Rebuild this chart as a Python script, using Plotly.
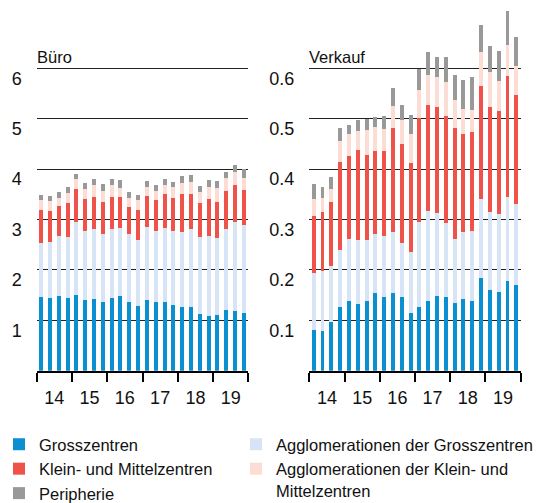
import plotly.graph_objects as go

# ---------------- data ----------------
quarters = ["2014 Q1", "2014 Q2", "2014 Q3", "2014 Q4",
            "2015 Q1", "2015 Q2", "2015 Q3", "2015 Q4",
            "2016 Q1", "2016 Q2", "2016 Q3", "2016 Q4",
            "2017 Q1", "2017 Q2", "2017 Q3", "2017 Q4",
            "2018 Q1", "2018 Q2", "2018 Q3", "2018 Q4",
            "2019 Q1", "2019 Q2", "2019 Q3", "2019 Q4"]
year_labels = ["14", "15", "16", "17", "18", "19"]

series_names = ["Grosszentren",
                "Agglomerationen der Grosszentren",
                "Klein- und Mittelzentren",
                "Agglomerationen der Klein- und<br>Mittelzentren",
                "Peripherie"]

# Büro
buero_gross = [1.46, 1.44, 1.48, 1.44, 1.50, 1.41, 1.42, 1.37, 1.45, 1.48, 1.36, 1.28,
               1.40, 1.36, 1.36, 1.30, 1.27, 1.27, 1.13, 1.09, 1.11, 1.21, 1.19, 1.15]
buero_agglo_gross = [1.08, 1.12, 1.20, 1.22, 1.45, 1.37, 1.40, 1.34, 1.37, 1.36, 1.35, 1.32,
                     1.45, 1.41, 1.47, 1.47, 1.49, 1.55, 1.52, 1.59, 1.52, 1.60, 1.77, 1.74]
buero_klein = [0.64, 0.60, 0.58, 0.66, 0.65, 0.62, 0.63, 0.63, 0.63, 0.60, 0.54, 0.58,
               0.61, 0.62, 0.67, 0.65, 0.75, 0.69, 0.67, 0.72, 0.72, 0.75, 0.73, 0.69]
buero_agglo_klein = [0.20, 0.20, 0.17, 0.20, 0.20, 0.21, 0.24, 0.22, 0.23, 0.19, 0.17, 0.20,
                     0.19, 0.17, 0.18, 0.22, 0.21, 0.24, 0.23, 0.25, 0.28, 0.27, 0.26, 0.25]
buero_peripherie = [0.11, 0.11, 0.11, 0.13, 0.11, 0.11, 0.11, 0.14, 0.13, 0.16, 0.13, 0.11,
                    0.11, 0.13, 0.12, 0.11, 0.15, 0.14, 0.12, 0.13, 0.13, 0.12, 0.13, 0.18]

# Verkauf
verkauf_gross = [0.080, 0.078, 0.097, 0.126, 0.138, 0.133, 0.138, 0.154, 0.146, 0.154, 0.147, 0.115,
                 0.127, 0.138, 0.148, 0.146, 0.135, 0.142, 0.139, 0.184, 0.160, 0.157, 0.177, 0.171]
verkauf_agglo_gross = [0.114, 0.120, 0.110, 0.114, 0.124, 0.126, 0.121, 0.118, 0.122, 0.122, 0.107, 0.120,
                       0.168, 0.179, 0.165, 0.147, 0.127, 0.134, 0.139, 0.157, 0.154, 0.154, 0.168, 0.159]
verkauf_klein = [0.112, 0.117, 0.128, 0.174, 0.164, 0.178, 0.168, 0.163, 0.168, 0.205, 0.196, 0.178,
                 0.206, 0.211, 0.211, 0.213, 0.219, 0.193, 0.195, 0.224, 0.210, 0.204, 0.239, 0.217]
verkauf_agglo_klein = [0.034, 0.028, 0.026, 0.042, 0.043, 0.038, 0.050, 0.048, 0.044, 0.044, 0.048, 0.056,
                       0.056, 0.059, 0.058, 0.066, 0.056, 0.050, 0.045, 0.068, 0.069, 0.059, 0.063, 0.058]
verkauf_peripherie = [0.030, 0.022, 0.023, 0.025, 0.018, 0.022, 0.023, 0.020, 0.026, 0.036, 0.030, 0.039,
                      0.042, 0.046, 0.041, 0.051, 0.050, 0.058, 0.065, 0.053, 0.052, 0.061, 0.067, 0.058]

panel_titles = ["Büro", "Verkauf"]
buero_ticks = [1, 2, 3, 4, 5, 6]
buero_ticktext = ["1", "2", "3", "4", "5", "6"]
verkauf_ticks = [0.1, 0.2, 0.3, 0.4, 0.5, 0.6]
verkauf_ticktext = ["0.1", "0.2", "0.3", "0.4", "0.5", "0.6"]

# ---------------- style ----------------
colors = ["#0a8fd1", "#d6e4f5", "#ee5249", "#fcdcd3", "#999999"]
legend_of = ["legend", "legend2", "legend", "legend2", "legend"]
PAGE_OFF = 8                      # default body margin of the html page
W, H = 551 - PAGE_OFF, 503 - PAGE_OFF
TEXT_FONT = "Liberation Sans, Arial, sans-serif"
TICK_FONT = "Liberation Sans, Arial, sans-serif"
TEXT_SIZE = 16.5


def fx(px):  # page x -> paper fraction
    return (px - PAGE_OFF) / W


def fy(py):  # page y -> paper fraction (from bottom)
    return 1 - (py - PAGE_OFF) / H


n = len(quarters)
xpos = list(range(n))
year_centers = [i * 4 + 1.5 for i in range(len(year_labels))]
year_bounds = [i * 4 - 0.5 for i in range(len(year_labels) + 1)]

panels = [
    [buero_gross, buero_agglo_gross, buero_klein, buero_agglo_klein, buero_peripherie],
    [verkauf_gross, verkauf_agglo_gross, verkauf_klein, verkauf_agglo_klein, verkauf_peripherie],
]

fig = go.Figure()
for p, stack in enumerate(panels):
    xa = "x" if p == 0 else "x2"
    ya = "y" if p == 0 else "y2"
    for k, vals in enumerate(stack):
        fig.add_trace(go.Bar(
            x=xpos, y=vals, name=series_names[k],
            marker=dict(color=colors[k], line=dict(width=0)),
            xaxis=xa, yaxis=ya,
            legend=legend_of[k], legendgroup=series_names[k],
            showlegend=(p == 0),
            hovertext=quarters, hoverinfo="text+y+name",
        ))

y_bottom = 370.7          # page y of the zero line
px_per_unit = 50.4
y_top = PAGE_OFF          # top of plotting area
ydom = [fy(y_bottom), fy(y_top)]
yr_buero = (y_bottom - y_top) / px_per_unit
yr_verkauf = yr_buero / 10

common_x = dict(
    range=[-0.5, n - 0.5], tickmode="array", tickvals=year_centers, ticktext=year_labels,
    ticks="outside", ticklen=10, tickcolor="rgba(0,0,0,0)",
    showline=True, linecolor="black", linewidth=2, showgrid=False, zeroline=False,
    tickfont=dict(family=TICK_FONT, size=18, color="#111"),
    minor=dict(tickmode="array", tickvals=year_bounds, ticks="outside", ticklen=9,
               tickwidth=2, tickcolor="black", showgrid=False),
    fixedrange=True, automargin=False,
)
common_y = dict(
    tickmode="array", showgrid=True, gridcolor="#222", gridwidth=1,
    zeroline=False, showline=False, ticks="",
    ticklabelshift=10, ticklabelstandoff=14,
    tickfont=dict(family=TICK_FONT, size=18, color="#111"),
    domain=ydom, fixedrange=True, automargin=False,
)

legend_common = dict(xanchor="left", yanchor="top", orientation="v",
                     traceorder="normal", font=dict(family=TEXT_FONT, size=TEXT_SIZE, color="#111"),
                     bgcolor="rgba(0,0,0,0)", tracegroupgap=0, itemclick=False,
                     itemdoubleclick=False, valign="top")

fig.update_layout(
    width=W, height=H,
    margin=dict(l=0, r=0, t=0, b=0, autoexpand=False),
    paper_bgcolor="white", plot_bgcolor="white",
    barmode="stack", bargap=0.55,
    xaxis=dict(domain=[fx(36.7), fx(248.3)], anchor="y", **common_x),
    xaxis2=dict(domain=[fx(309.3), fx(520.7)], anchor="y2", **common_x),
    yaxis=dict(anchor="x", range=[0, yr_buero], tickvals=buero_ticks, ticktext=buero_ticktext, **common_y),
    yaxis2=dict(anchor="x2", range=[0, yr_verkauf], tickvals=verkauf_ticks, ticktext=verkauf_ticktext, **common_y),
    legend=dict(x=fx(-1), y=fy(427), **legend_common),
    legend2=dict(x=fx(236), y=fy(427), **legend_common),
    annotations=[
        dict(text=panel_titles[0], xref="x domain", yref="y", x=0, y=buero_ticks[-1],
             xanchor="left", yanchor="bottom", showarrow=False, xshift=-2, yshift=0,
             font=dict(family=TEXT_FONT, size=TEXT_SIZE, color="#111")),
        dict(text=panel_titles[1], xref="x2 domain", yref="y2", x=0, y=verkauf_ticks[-1],
             xanchor="left", yanchor="bottom", showarrow=False, xshift=-2, yshift=0,
             font=dict(family=TEXT_FONT, size=TEXT_SIZE, color="#111")),
    ],
)

fig.write_html("out.html")
